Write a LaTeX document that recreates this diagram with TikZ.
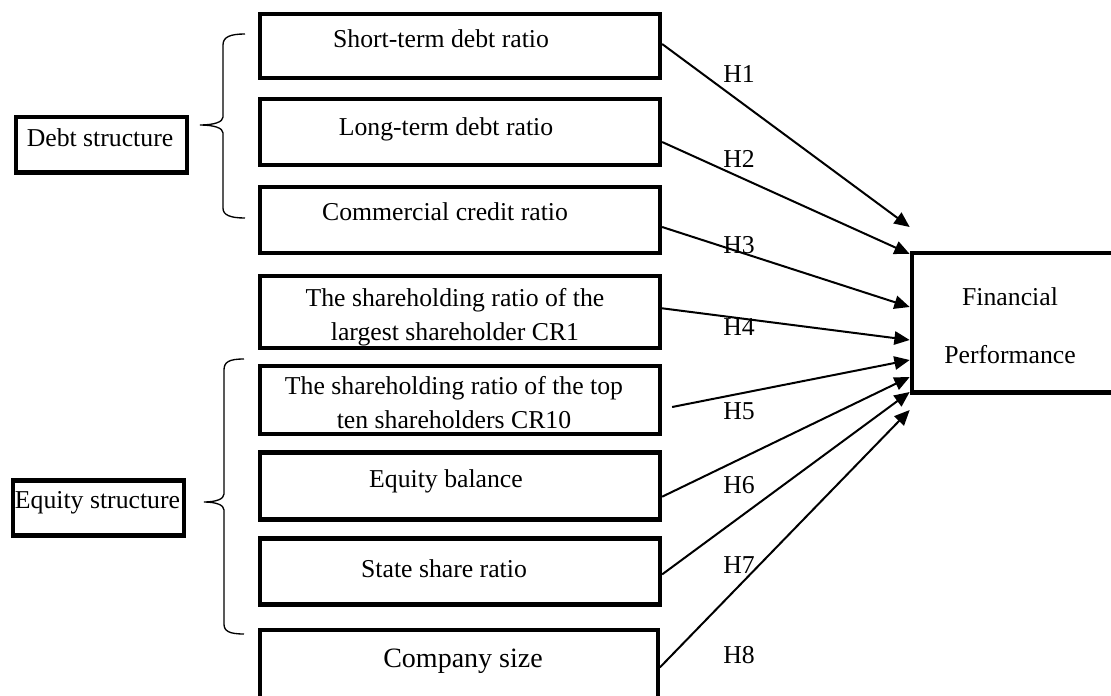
\documentclass[tikz,border=0pt]{standalone}
\usepackage{fontspec}
\setmainfont{Liberation Serif}
\usetikzlibrary{arrows.meta,calc}

\begin{document}
\begin{tikzpicture}[x=0.75pt,y=-0.75pt,
  box/.style={draw,line width=3.2pt,minimum width=300pt,inner sep=0pt},
  side/.style={draw,line width=3.2pt,minimum width=128.25pt,minimum height=41.4pt,inner sep=0pt},
  txt/.style={font=\fontsize{19.3}{25.5}\selectfont,anchor=base,align=center,inner sep=0pt},
  arr/.style={line width=1.5pt,-{Triangle[length=11.5pt,width=10pt]}},
  brc/.style={line width=1pt}]
\useasboundingbox (0,0) rectangle (1111,696);
\clip (0,0) rectangle (1111,696);

% boxes in the middle column
\node[box,minimum height=48.4pt] (b1) at (460,46) {};
\node[box,minimum height=49pt] (b2) at (460,132) {};
\node[box,minimum height=49pt] (b3) at (460,220) {};
\node[box,minimum height=54.4pt] (b4) at (460,312) {};
\node[box,minimum height=50.6pt] (b5) at (460,400) {};
\node[box,minimum height=50.25pt] (b6) at (460,486) {};
\node[box,minimum height=49.5pt] (b7) at (460,571.4) {};
\node[box,minimum width=298pt,minimum height=56pt] (b8) at (459,667.5) {};

\node[side] (debt) at (101.7,144.8) {};
\node[side] (equity) at (98.3,508) {};
\node[draw,line width=3.2pt,minimum width=160pt,minimum height=104.8pt,inner sep=0pt] (fp) at (1018.5,322.6) {};

% texts (base = last line)
\node[txt] (t1) at (441,47) {Short-term debt ratio};
\node[txt] (t2) at (446,135) {Long-term debt ratio};
\node[txt] (t3) at (445,220) {Commercial credit ratio};
\node[txt] (t4) at (455,340) {The shareholding ratio of the\\largest shareholder CR1};
\node[txt] (t5) at (454,428) {The shareholding ratio of the top\\ten shareholders CR10};
\node[txt] (t6) at (446,487) {Equity balance};
\node[txt] (t7) at (444,577) {State share ratio};
\node[txt,font=\fontsize{21}{25}\selectfont] (t8) at (463,667) {Company size};
\node[txt] (td) at (100,146) {Debt structure};
\node[txt] (te) at (97.5,508) {Equity structure};
\node[txt] (tf) at (1010,363) {Financial\\[18pt]Performance};

% braces
\draw[brc] (245,34) .. controls (230,34) and (223,37) .. (223,45) -- (223,117)
  .. controls (223,122) and (214,125) .. (200,125)
  .. controls (214,125) and (223,128) .. (223,133) -- (223,208)
  .. controls (223,215) and (230,218) .. (245,218);
\draw[brc] (244,359) .. controls (229,359) and (224,362) .. (224,370) -- (224,494)
  .. controls (224,499) and (216,502) .. (204,502)
  .. controls (216,502) and (224,505) .. (224,510) -- (224,624)
  .. controls (224,631) and (229,634) .. (244,634);

% hypotheses
\draw[arr] ($(b1.east)+(0,-2)$) -- ($(fp.west)+(0,-95.6)$);
\draw[arr] ($(b2.east)+(0,10)$) -- ($(fp.west)+(0,-68.6)$);
\draw[arr] ($(b3.east)+(0,7)$) -- ($(fp.west)+(0,-15.6)$);
\draw[arr] ($(b4.east)+(0,-3.7)$) -- ($(fp.west)+(0,17.4)$);
\draw[arr] ($(b5.east)+(10,7)$) -- ($(fp.west)+(0,37.4)$);
\draw[arr] ($(b6.east)+(0,10.7)$) -- ($(fp.west)+(0,54.4)$);
\draw[arr] ($(b7.east)+(0,3)$) -- ($(fp.west)+(0,69.4)$);
\draw[arr] (b8.east) -- ($(fp.west)+(0,87.4)$);

\foreach \n/\y in {1/82,2/167,3/253,4/335,5/419,6/493,7/573,8/663}
  \node[txt,anchor=base west] (h\n) at (723,\y) {H\n};
\end{tikzpicture}
\end{document}
